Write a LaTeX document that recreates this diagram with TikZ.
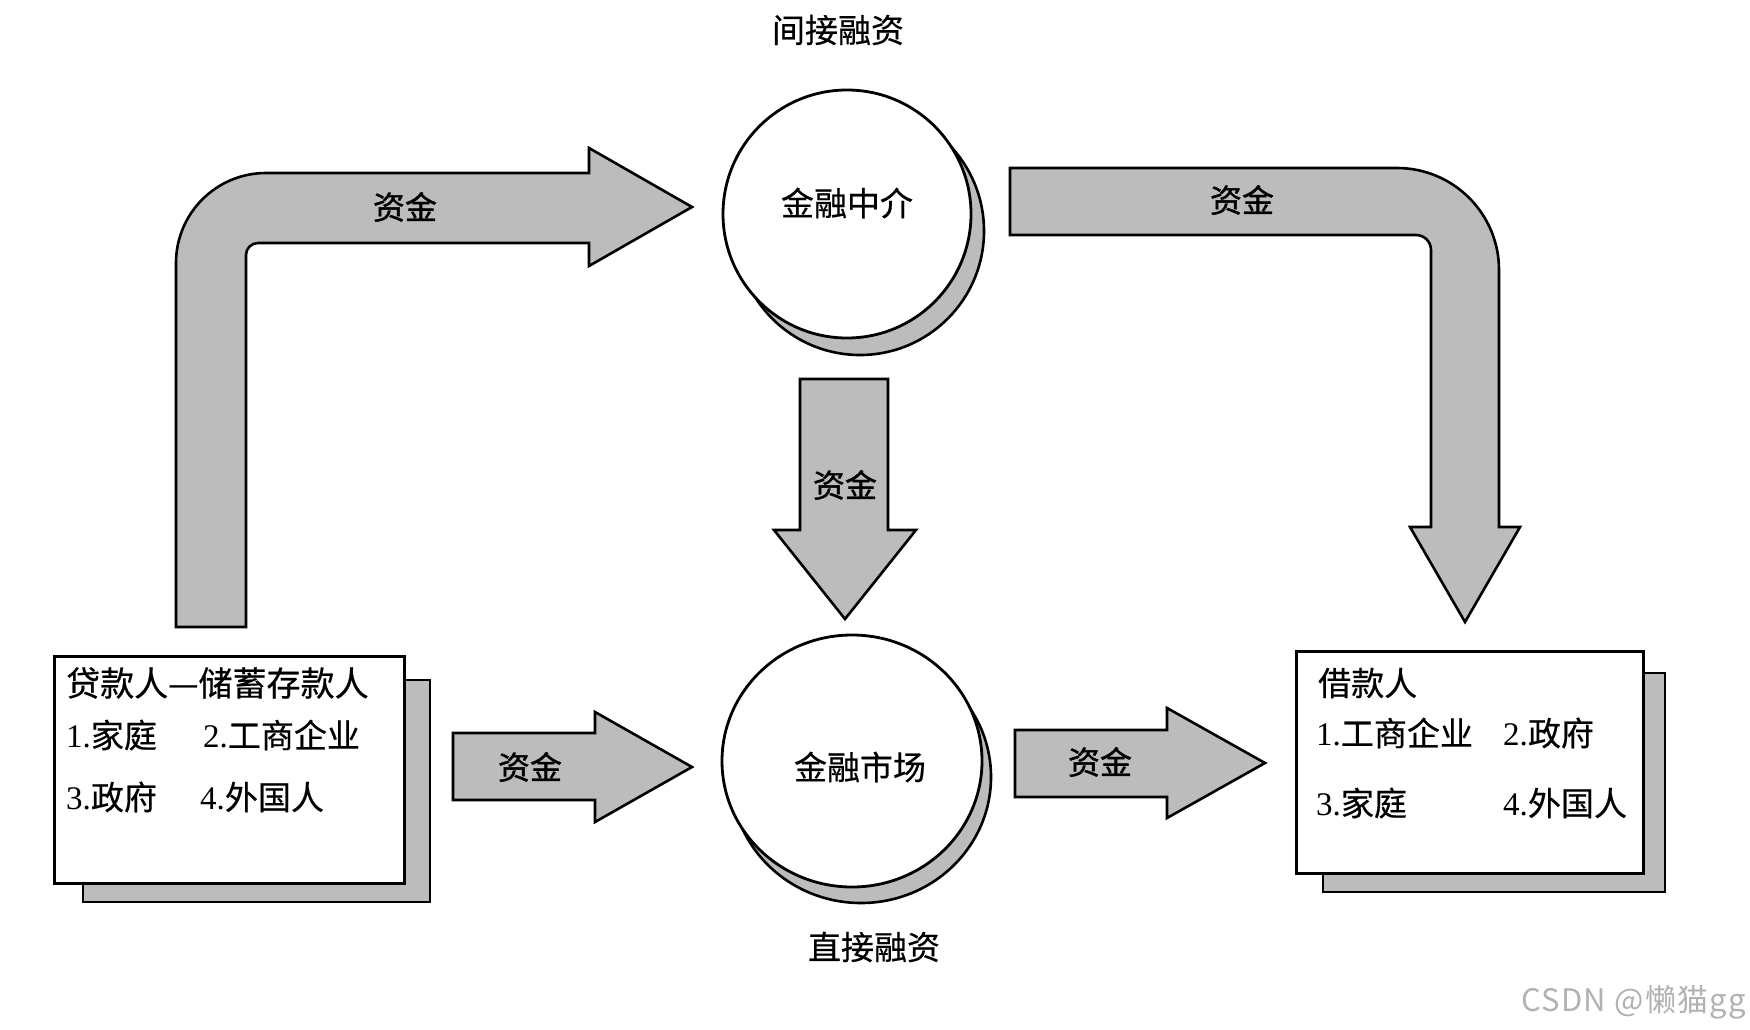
\documentclass[tikz,border=0pt]{standalone}
\usepackage{fontspec}
\setmainfont{Liberation Serif}
\newfontfamily\cjk[FakeBold=0.5]{Noto Sans CJK SC}
\newfontfamily\cjkb[FakeBold=1.2]{Noto Sans CJK SC}
\newfontfamily\cjkw[LetterSpace=4]{Noto Sans CJK SC}
\usetikzlibrary{shapes.geometric,calc}
\definecolor{texgray}{RGB}{188,188,188}
\newcommand\numitem[2]{#1{\cjk #2}}
\tikzset{
  fat/.style={draw=black, line width=2.6pt, fill=texgray, line join=miter},
  shadowfill/.style={draw=black, line width=2.6pt, fill=texgray},
  boxmain/.style={draw=black, line width=2.6pt, fill=white, rectangle, inner sep=0pt, anchor=north west},
  circ/.style={draw=black, line width=2.8pt, fill=white, ellipse, inner sep=0pt},
  lbl/.style={font=\cjk\fontsize{33}{36}\selectfont, inner sep=0pt},
  money/.style={font=\cjkb\fontsize{32}{34}\selectfont, inner sep=0pt},
  entry/.style={anchor=west, inner sep=0pt, font=\fontsize{33}{36}\selectfont},
}
\begin{document}
\begin{tikzpicture}[x=1pt,y=-1pt]
\useasboundingbox (0,0) rectangle (1750,1030);
\fill[white] (0,0) rectangle (1750,1030);

% top and bottom labels
\node[lbl] (indirect) at (838,30) {间接融资};
\node[lbl] (direct) at (874,947) {直接融资};

% circles with shadows
\draw[shadowfill] (860,231) ellipse [x radius=124, y radius=124];
\node[circ, minimum width=248pt, minimum height=248pt] (fi) at (847,214) {};
\node[lbl] (fiL) at (847,203) {金融中介};

\draw[shadowfill] (861,777) ellipse [x radius=130, y radius=126];
\node[circ, minimum width=260pt, minimum height=252pt] (fm) at (852,761) {};
\node[lbl] (fmL) at (860,767) {金融市场};

% boxes with shadows
\draw[shadowfill] (83,680) rectangle (430,902);
\node[boxmain, minimum width=350pt, minimum height=227pt] (lend) at (53,655) {};
\node[entry, font=\cjk\fontsize{34}{36}\selectfont] (l0) at (66,683) {贷款人—储蓄存款人};
\node[entry] (l1) at (66,735) {\numitem{1.}{家庭}};
\node[entry] (l2) at (203,735) {\numitem{2.}{工商企业}};
\node[entry] (l3) at (66,797) {\numitem{3.}{政府}};
\node[entry] (l4) at (200,797) {\numitem{4.}{外国人}};

\draw[shadowfill] (1323,673) rectangle (1665,892);
\node[boxmain, minimum width=347pt, minimum height=222pt] (borr) at (1295,650) {};
\node[entry, font=\cjk\fontsize{33}{36}\selectfont] (r0) at (1318,683) {借款人};
\node[entry] (r1) at (1316,733) {\numitem{1.}{工商企业}};
\node[entry] (r2) at (1503,733) {\numitem{2.}{政府}};
\node[entry] (r3) at (1316,803) {\numitem{3.}{家庭}};
\node[entry] (r4) at (1503,803) {\numitem{4.}{外国人}};

% fat arrows
\draw[fat] (176,627) -- (176,263) arc[start angle=180, end angle=270, radius=90]
  -- (589,173) -- (589,148) -- (692,207) -- (589,266) -- (589,243) -- (258,243)
  arc[start angle=270, end angle=180, radius=12] -- (246,627) -- cycle;
\node[money] (m1) at (405,207) {资金};

\draw[fat] (1010,168) -- (1397,168) arc[start angle=270, end angle=360, radius=102]
  -- (1499,527) -- (1520,527) -- (1465,622) -- (1410,527) -- (1431,527) -- (1431,250)
  arc[start angle=360, end angle=270, radius=15] -- (1010,235) -- cycle;
\node[money] (m2) at (1242,200) {资金};

\draw[fat] (800,379) -- (888,379) -- (888,530) -- (916,530) -- (845,619) -- (774,530) -- (800,530) -- cycle;
\node[money] (m3) at (845,485) {资金};

\draw[fat] (453,733) -- (595,733) -- (595,712) -- (692,767) -- (595,822) -- (595,800) -- (453,800) -- cycle;
\node[money] (m4) at (530,767) {资金};

\draw[fat] (1015,730) -- (1167,730) -- (1167,708) -- (1265,763) -- (1167,818) -- (1167,797) -- (1015,797) -- cycle;
\node[money] (m5) at (1100,762) {资金};

% watermark
\node[anchor=east, inner sep=0pt, text=black!30, font=\cjkw\fontsize{31}{33}\selectfont] (wm) at (1746,1002) {CSDN @懒猫gg};
\end{tikzpicture}
\end{document}
